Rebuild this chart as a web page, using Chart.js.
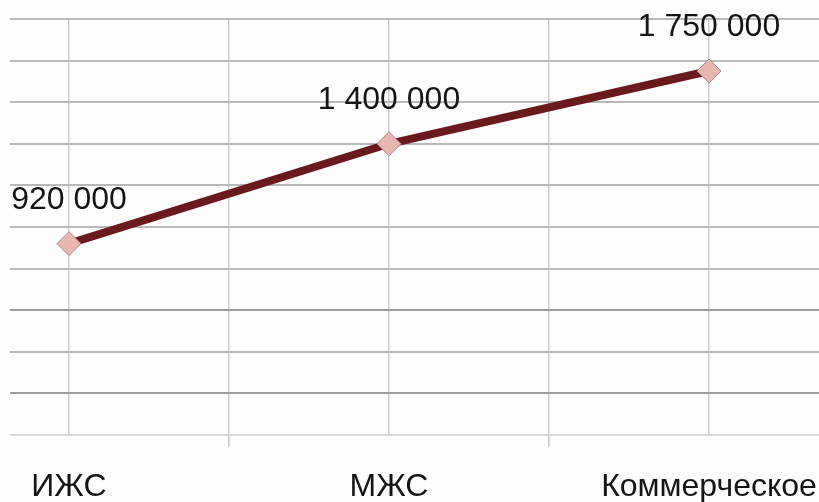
<!DOCTYPE html>
<html lang="ru">
<head>
<meta charset="utf-8">
<title>Стоимость по типам</title>
<script src="https://cdn.jsdelivr.net/npm/chart.js@4/dist/chart.umd.min.js"></script>
<style>
  html, body { margin: 0; padding: 0; background: #fdfdfd; }
  #wrap { width: 819px; height: 502px; position: relative; }
</style>
</head>
<body>
<div id="wrap"><canvas id="priceChart"></canvas></div>
<script>
const categories = ["ИЖС", "МЖС", "Коммерческое"];
const prices = [920000, 1400000, 1750000];
const yTicks = [0, 200000, 400000, 600000, 800000, 1000000, 1200000, 1400000, 1600000, 1800000, 2000000];

const FONT = "'Liberation Sans', Arial, sans-serif";

function formatNumber(v) {
    return String(v).replace(/\B(?=(\d{3})+(?!\d))/g, " ");
}

// value captions above each marker
const valueLabels = {
    id: "valueLabels",
    afterDatasetsDraw(chart) {
        let ctx = chart.ctx;
        let meta = chart.getDatasetMeta(0);
        ctx.save();
        ctx.font = "32px " + FONT;
        ctx.fillStyle = "#151515";
        ctx.textAlign = "center";
        ctx.textBaseline = "alphabetic";
        meta.data.forEach((pt, i) => {
            ctx.fillText(formatNumber(prices[i]), pt.x, pt.y - 35);
        });
        ctx.restore();
    }
};

let points = prices.map((p, i) => ({ x: i, y: p }));

new Chart(document.getElementById("priceChart"), {
    type: "line",
    data: {
        datasets: [{
            data: points,
            borderColor: "#6a1a1d",
            borderWidth: 8,
            tension: 0,
            pointStyle: "rectRot",
            pointRadius: 12,
            pointHoverRadius: 12,
            pointBackgroundColor: "#e9b6b2",
            pointBorderColor: "#a88a8a",
            pointBorderWidth: 1,
            clip: false
        }]
    },
    options: {
        responsive: true,
        maintainAspectRatio: false,
        animation: false,
        events: [],
        layout: { autoPadding: false, padding: { left: 10, top: 19, right: 0, bottom: 0 } },
        plugins: {
            legend: { display: false },
            tooltip: { enabled: false }
        },
        scales: {
            x: {
                type: "linear",
                min: -0.184375,
                max: 2.34375,
                afterBuildTicks: axis => {
                    axis.ticks = [0, 0.5, 1, 1.5, 2].map(v => ({ value: v }));
                },
                afterFit: axis => {
                    axis.height = 67;
                    axis.paddingLeft = 0;
                    axis.paddingRight = 0;
                },
                border: { display: false },
                grid: {
                    color: "#cdcdcd",
                    lineWidth: 1.5,
                    tickLength: 12,
                    tickColor: c => Number.isInteger(c.tick.value) ? "rgba(0,0,0,0)" : "#c8c8c8"
                },
                ticks: {
                    autoSkip: false,
                    maxRotation: 0,
                    padding: 21,
                    color: "#151515",
                    font: { family: FONT, size: 32 },
                    callback: v => Number.isInteger(v) ? categories[v] : ""
                }
            },
            y: {
                min: 0,
                max: 2000000,
                afterBuildTicks: axis => {
                    axis.ticks = yTicks.map(v => ({ value: v }));
                },
                afterFit: axis => {
                    axis.width = 0;
                },
                border: { display: false },
                grid: {
                    drawTicks: false,
                    lineWidth: 2,
                    color: c => {
                        if (c.tick.value === 0) return "#d9d9d9";
                        if (c.tick.value === 200000 || c.tick.value === 600000) return "#9c9c9c";
                        return "#b9b9b9";
                    }
                },
                ticks: { display: false }
            }
        }
    },
    plugins: [valueLabels]
});
</script>
</body>
</html>
